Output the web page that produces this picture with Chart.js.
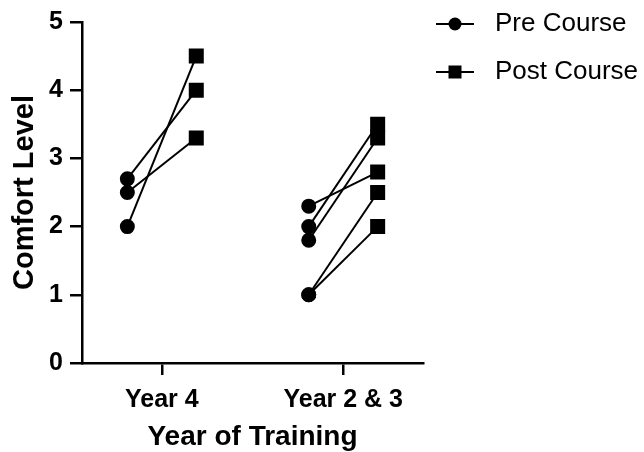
<!DOCTYPE html>
<html lang="en">
<head>
    <meta charset="UTF-8">
    <title>Comfort Level</title>
    <script src="https://cdn.jsdelivr.net/npm/chart.js"></script>
    <style>
        html, body { margin: 0; padding: 0; background: #fff; }
        #wrap { width: 644px; height: 452px; }
    </style>
</head>
<body>
    <div id="wrap">
        <canvas id="comfortChart" width="644" height="452"></canvas>
    </div>
    <script>
        const categories = ['Year 4', 'Year 2 & 3'];
        const seriesNames = ['Pre Course', 'Post Course'];
        const year4Pre = [2.7, 2.5, 2.0];
        const year4Post = [4.0, 3.3, 4.5];
        const year23Pre = [2.3, 2.0, 1.8, 1.0, 1.0];
        const year23Post = [2.8, 3.5, 3.3, 2.5, 2.0];
        const yTicks = [0, 1, 2, 3, 4, 5];

        const dodge = 0.19; // pre left, post right of the category tick
        const font = 'Liberation Sans, Arial, sans-serif';

        // one dataset per trainee: pre point joined to post point
        function pairs(pre, post, catIndex) {
            return pre.map((v, i) => ({
                data: [
                    { x: catIndex + 1 - dodge, y: v },
                    { x: catIndex + 1 + dodge, y: post[i] }
                ],
                borderColor: '#000',
                backgroundColor: '#000',
                borderWidth: 2,
                pointStyle: ['circle', 'rect'],
                pointRadius: [6.5, 9.2],
                pointHoverRadius: [6.5, 9.2],
                showLine: true
            }));
        }

        const datasets = pairs(year4Pre, year4Post, 0).concat(pairs(year23Pre, year23Post, 1));

        const legendPlugin = {
            id: 'lineLegend',
            afterDraw(chart) {
                const ctx = chart.ctx;
                const rows = [
                    { y: 24, style: 'circle', r: 6.5 },
                    { y: 72, style: 'rect', r: 9.2 }
                ];
                ctx.save();
                rows.forEach((row, i) => {
                    ctx.strokeStyle = '#000';
                    ctx.fillStyle = '#000';
                    ctx.lineWidth = 2;
                    ctx.beginPath();
                    ctx.moveTo(436, row.y);
                    ctx.lineTo(474, row.y);
                    ctx.stroke();
                    Chart.helpers.drawPoint(ctx, { pointStyle: row.style, radius: row.r, borderWidth: 0 }, 455, row.y);
                    ctx.font = '26px ' + font;
                    ctx.textBaseline = 'middle';
                    ctx.textAlign = 'left';
                    ctx.fillText(seriesNames[i], 495, row.y);
                });
                ctx.restore();
            }
        };

        new Chart(document.getElementById('comfortChart'), {
            type: 'scatter',
            data: { datasets: datasets },
            options: {
                responsive: false,
                animation: false,
                events: [],
                layout: { padding: { left: 0, top: 21, right: 221, bottom: 0 } },
                plugins: { legend: { display: false }, tooltip: { enabled: false } },
                scales: {
                    x: {
                        type: 'linear',
                        min: 0.56,
                        max: 2.44,
                        afterBuildTicks: (scale) => {
                            scale.ticks = categories.map((c, i) => ({ value: i + 1 }));
                        },
                        afterFit: (scale) => { scale.height = 89; },
                        border: { display: true, color: '#000', width: 2.5 },
                        grid: { drawOnChartArea: false, drawTicks: true, tickLength: 12, color: '#000', lineWidth: 2.5 },
                        ticks: {
                            color: '#000',
                            padding: 10,
                            maxRotation: 0,
                            font: { family: font, size: 25, weight: 'bold' },
                            callback: (v) => categories[v - 1]
                        },
                        title: {
                            display: true,
                            text: 'Year of Training',
                            color: '#000',
                            padding: { top: 0, bottom: 1 },
                            font: { family: font, size: 28, weight: 'bold', lineHeight: 1 }
                        }
                    },
                    y: {
                        min: 0,
                        max: 5,
                        afterBuildTicks: (scale) => {
                            scale.ticks = yTicks.map(v => ({ value: v }));
                        },
                        afterFit: (scale) => { scale.width = 82; },
                        border: { display: true, color: '#000', width: 2.5 },
                        grid: { drawOnChartArea: false, drawTicks: true, tickLength: 12, color: '#000', lineWidth: 2.5 },
                        ticks: {
                            color: '#000',
                            padding: 7,
                            font: { family: font, size: 25, weight: 'bold' }
                        },
                        title: {
                            display: true,
                            text: 'Comfort Level',
                            color: '#000',
                            padding: { top: 10, bottom: 0 },
                            font: { family: font, size: 29, weight: 'bold', lineHeight: 1 }
                        }
                    }
                }
            },
            plugins: [legendPlugin]
        });
    </script>
</body>
</html>
